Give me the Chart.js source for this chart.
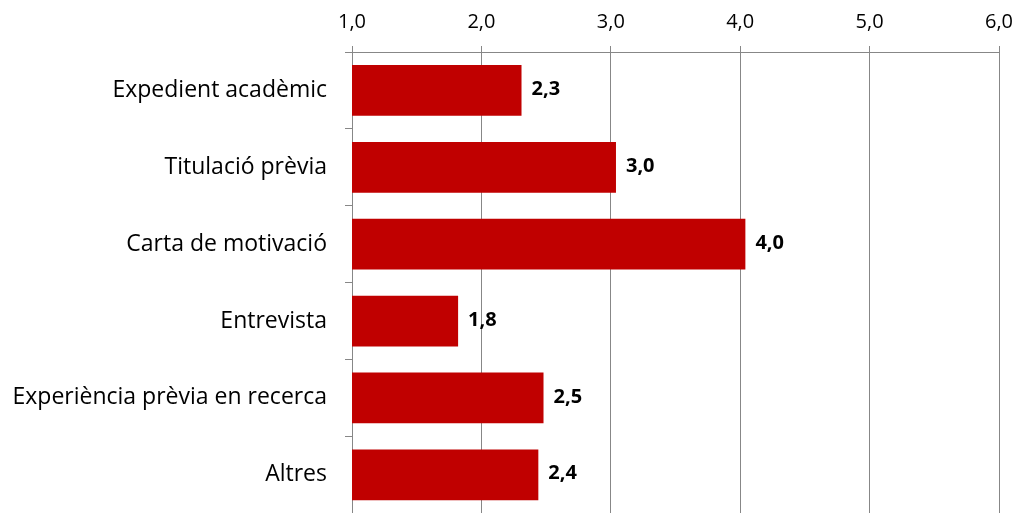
<!DOCTYPE html>
<html>
<head>
<meta charset="utf-8">
<script src="https://cdn.jsdelivr.net/npm/chart.js@4.4.0/dist/chart.umd.min.js"></script>
<style>
  html, body { margin: 0; padding: 0; background: #fff; overflow: hidden; }
  #wrap { width: 1018px; height: 545px; }
</style>
</head>
<body>
<div id="wrap"><canvas id="chart" width="1018" height="545"></canvas></div>
<script>
// Chart data
const categories = ['Expedient acadèmic', 'Titulació prèvia', 'Carta de motivació', 'Entrevista', 'Experiència prèvia en recerca', 'Altres'];
const values = [2.31, 3.04, 4.04, 1.82, 2.48, 2.44];
const axisMin = 1;
const axisMax = 6;

const fmt = (v) => v.toFixed(1).replace('.', ',');

// Draw value labels at the end of each bar
const valueLabels = {
    id: 'valueLabels',
    afterDatasetsDraw(chart) {
        const ctx = chart.ctx;
        const meta = chart.getDatasetMeta(0);
        ctx.save();
        ctx.font = "bold 20px 'Open Sans', sans-serif";
        ctx.fillStyle = '#000';
        ctx.textAlign = 'left';
        ctx.textBaseline = 'middle';
        meta.data.forEach((bar, i) => {
            ctx.fillText(fmt(values[i]), bar.x + 10, bar.y - 1);
        });
        ctx.restore();
    }
};

const ctx = document.getElementById('chart').getContext('2d');
new Chart(ctx, {
    type: 'bar',
    data: {
        labels: categories,
        datasets: [{
            data: values,
            backgroundColor: '#C00000',
            borderWidth: 0,
            categoryPercentage: 1,
            barPercentage: 0.66
        }]
    },
    options: {
        indexAxis: 'y',
        responsive: false,
        animation: false,
        layout: { padding: { left: 0, right: 19, top: 0, bottom: 5 } },
        plugins: {
            legend: { display: false },
            tooltip: { enabled: false }
        },
        scales: {
            x: {
                position: 'top',
                min: axisMin,
                max: axisMax,
                afterFit: (scale) => {
                    scale.height = 52;
                    scale.paddingLeft = 0;
                    scale.paddingRight = 0;
                },
                ticks: {
                    stepSize: 1,
                    color: '#000',
                    padding: 12,
                    maxRotation: 0,
                    font: { family: "'Open Sans', sans-serif", size: 20 },
                    callback: (v) => fmt(v)
                },
                grid: { color: '#878787', lineWidth: 1, tickLength: 6 },
                border: { color: '#878787' }
            },
            y: {
                afterFit: (scale) => { scale.width = 352; },
                ticks: {
                    color: '#000',
                    padding: 18,
                    font: { family: "'Open Sans', sans-serif", size: 23 }
                },
                grid: { drawOnChartArea: false, color: '#878787', tickLength: 7, offset: true },
                border: { color: '#878787' }
            }
        }
    },
    plugins: [valueLabels]
});
</script>
</body>
</html>
